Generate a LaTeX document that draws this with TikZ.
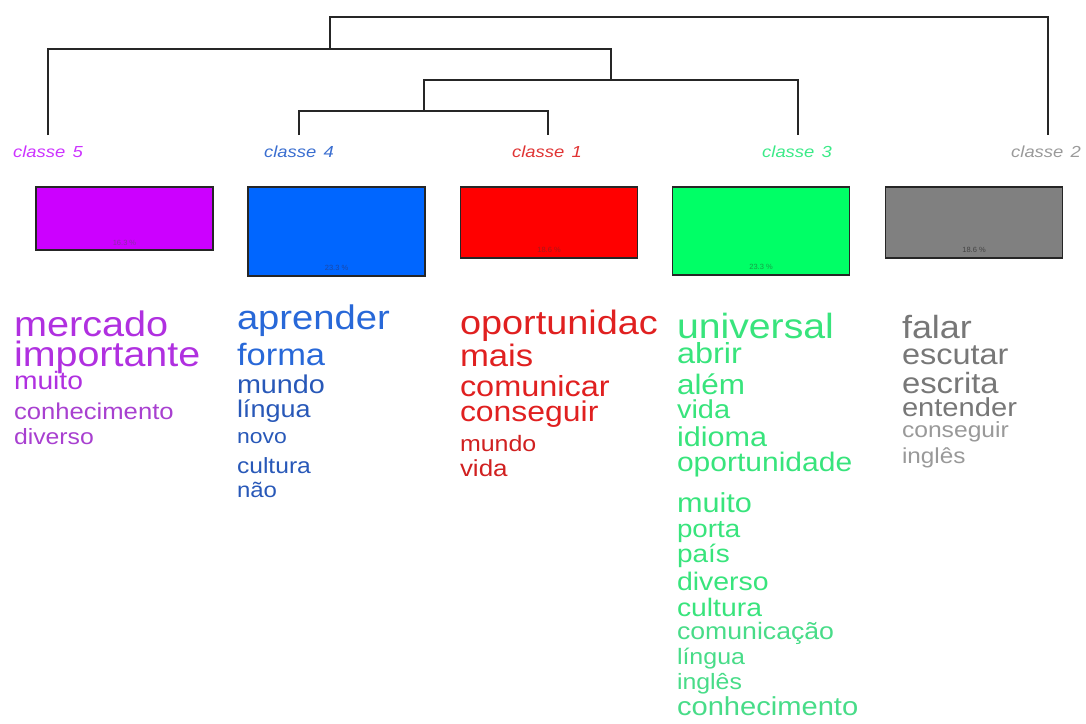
\documentclass[tikz,border=0pt]{standalone}
\usepackage{fontspec}
\setmainfont{Liberation Sans}
\newfontfamily\wordfont[FakeStretch=1.12]{Liberation Sans}
\newfontfamily\labfont[FakeStretch=1.15]{Liberation Sans}
\definecolor{cfive}{HTML}{CC00FF}
\definecolor{cfour}{HTML}{0066FF}
\definecolor{cone}{HTML}{FF0000}
\definecolor{cthree}{HTML}{00FF66}
\definecolor{ctwo}{HTML}{808080}
\definecolor{tfive}{HTML}{B030E0}
\definecolor{tfiveb}{HTML}{A840D0}
\definecolor{tfour}{HTML}{2868D8}
\definecolor{tfourb}{HTML}{2858B8}
\definecolor{tone}{HTML}{E02020}
\definecolor{toneb}{HTML}{D02020}
\definecolor{tthree}{HTML}{38E47C}
\definecolor{tthreeb}{HTML}{48DC88}
\definecolor{ttwo}{HTML}{777777}
\definecolor{ttwob}{HTML}{999999}
\definecolor{pfive}{HTML}{8A2AA8}
\definecolor{pfour}{HTML}{1A48A8}
\definecolor{pone}{HTML}{A81818}
\definecolor{pthree}{HTML}{18A048}
\definecolor{ptwo}{HTML}{444444}
\definecolor{lfive}{HTML}{CC33FF}
\definecolor{lfour}{HTML}{3A6ED0}
\definecolor{lone}{HTML}{E03434}
\definecolor{lthree}{HTML}{3CEA88}
\definecolor{ltwo}{HTML}{9A9A9A}
\newcommand{\wrd}[6]{\node[word, text=#5, font={\wordfont\fontsize{#4}{#4}\selectfont}] (#1) at (#2,#3) {#6};}
\tikzset{
  word/.style={anchor=base west, inner sep=0pt, outer sep=0pt},
  clabel/.style={font={\labfont\itshape\fontsize{16}{16}\selectfont}, inner sep=0pt},
  classbox/.style={draw=black!85, line width=1.2pt, minimum width=177pt, inner sep=0pt},
  pct/.style={anchor=south, inner sep=0pt, font={\fontsize{7.5}{7.5}\selectfont}},
  dendro/.style={draw=black!85, line width=1.4pt},
}
\begin{document}
\begin{tikzpicture}[x=1pt, y=-1pt]
\useasboundingbox (0,0) rectangle (1086,723);
% class labels
\node[clabel, text=lfive] (l5) at (48,152) {classe\hspace{0.45em}5};
\node[clabel, text=lfour] (l4) at (299,152) {classe\hspace{0.45em}4};
\node[clabel, text=lone] (l1) at (547,152) {classe\hspace{0.45em}1};
\node[clabel, text=lthree] (l3) at (797,152) {classe\hspace{0.45em}3};
\node[clabel, text=ltwo] (l2) at (1046,152) {classe\hspace{0.45em}2};
% dendrogram
\coordinate (t5) at (48,135);
\coordinate (t4) at (299,135);
\coordinate (t1) at (548,135);
\coordinate (t3) at (798,135);
\coordinate (t2) at (1048,135);
\coordinate (m41) at (424,111);
\coordinate (m413) at (611,80);
\coordinate (m5) at (330,49);
\coordinate (mtop) at (690,17);
\draw[dendro] (t4) |- (m41) -| (t1);
\draw[dendro] (m41) |- (m413) -| (t3);
\draw[dendro] (t5) |- (m5) -| (m413);
\draw[dendro] (m5) |- (mtop) -| (t2);
% boxes
\node[classbox, fill=cfive, minimum height=63pt] (b5) at (124.5,218.5) {};
\node[classbox, fill=cfour, minimum height=89pt] (b4) at (336.5,231.5) {};
\node[classbox, fill=cone, minimum height=71pt] (b1) at (549,222.5) {};
\node[classbox, fill=cthree, minimum height=88pt] (b3) at (761,231) {};
\node[classbox, fill=ctwo, minimum height=71pt] (b2) at (974,222.5) {};
\node[pct, text=pfive] (p5) at ([yshift=5pt]b5.south) {16.3 \%};
\node[pct, text=pfour] (p4) at ([yshift=6pt]b4.south) {23.3 \%};
\node[pct, text=pone] (p1) at ([yshift=6pt]b1.south) {18.6 \%};
\node[pct, text=pthree] (p3) at ([yshift=6pt]b3.south) {23.3 \%};
\node[pct, text=ptwo] (p2) at ([yshift=6pt]b2.south) {18.6 \%};
% classe 5 words
\wrd{w5a}{14}{336}{35.4}{tfive}{mercado}
\wrd{w5b}{14}{366}{35.2}{tfive}{importante}
\wrd{w5c}{14}{389}{25.2}{tfive}{muito}
\wrd{w5d}{14}{419}{22.9}{tfiveb}{conhecimento}
\wrd{w5e}{14}{444}{22.1}{tfiveb}{diverso}
% classe 4 words
\wrd{w4a}{237}{329}{34.1}{tfour}{aprender}
\wrd{w4b}{237}{365}{30.8}{tfour}{forma}
\wrd{w4c}{237}{393}{25.7}{tfourb}{mundo}
\wrd{w4d}{237}{417}{24.1}{tfourb}{língua}
\wrd{w4e}{237}{443}{20.5}{tfourb}{novo}
\wrd{w4f}{237}{473}{22}{tfourb}{cultura}
\wrd{w4g}{237}{497}{21.4}{tfourb}{não}
% classe 1 words
\wrd{w1a}{460}{334}{33.8}{tone}{oportunidac}
\wrd{w1b}{460}{366}{31}{tone}{mais}
\wrd{w1c}{460}{396}{29}{tone}{comunicar}
\wrd{w1d}{460}{421}{28.5}{tone}{conseguir}
\wrd{w1e}{460}{451}{22.3}{toneb}{mundo}
\wrd{w1f}{460}{476}{23.2}{toneb}{vida}
% classe 3 words
\wrd{w3a}{677}{338}{35}{tthree}{universal}
\wrd{w3b}{677}{363}{29}{tthree}{abrir}
\wrd{w3c}{677}{394}{28.1}{tthree}{além}
\wrd{w3d}{677}{418}{25.9}{tthree}{vida}
\wrd{w3e}{677}{446}{27.3}{tthree}{idioma}
\wrd{w3f}{677}{471}{26.8}{tthree}{oportunidade}
\wrd{w3g}{677}{512}{27.4}{tthree}{muito}
\wrd{w3h}{677}{537}{24.8}{tthree}{porta}
\wrd{w3i}{677}{562}{25}{tthree}{país}
\wrd{w3j}{677}{590}{25.4}{tthree}{diverso}
\wrd{w3k}{677}{616}{25.3}{tthree}{cultura}
\wrd{w3l}{677}{639}{23.8}{tthreeb}{comunicação}
\wrd{w3m}{677}{664}{22.3}{tthreeb}{língua}
\wrd{w3n}{677}{689}{22.2}{tthreeb}{inglês}
\wrd{w3o}{677}{715}{26}{tthreeb}{conhecimento}
% classe 2 words
\wrd{w2a}{902}{338}{32.1}{ttwo}{falar}
\wrd{w2b}{902}{364}{29}{ttwo}{escutar}
\wrd{w2c}{902}{393}{29.3}{ttwo}{escrita}
\wrd{w2d}{902}{416}{26}{ttwo}{entender}
\wrd{w2e}{902}{437}{22}{ttwob}{conseguir}
\wrd{w2f}{902}{463}{21.7}{ttwob}{inglês}
\end{tikzpicture}
\end{document}
